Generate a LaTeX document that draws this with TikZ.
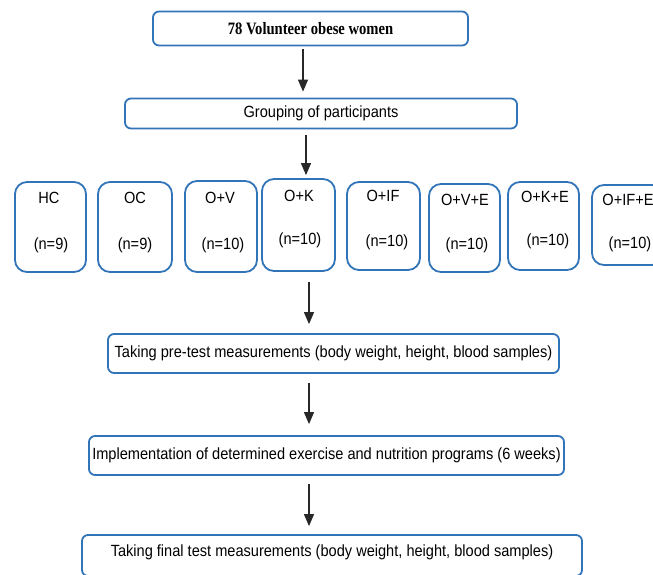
\documentclass[tikz,border=0pt]{standalone}
\usepackage{fontspec}
\setmainfont{Liberation Sans}[FakeStretch=0.9]
\newfontfamily\serifbold{Liberation Serif}[FakeStretch=0.84]
\usetikzlibrary{arrows.meta}
\definecolor{boxblue}{RGB}{50,116,184}
\definecolor{arrgray}{RGB}{40,40,40}
\tikzset{
  widebox/.style={draw=boxblue, line width=1.8pt, rounded corners=6pt, inner sep=0pt, font=\fontsize{16.2}{18}\selectfont},
  grpbox/.style={draw=boxblue, line width=1.8pt, rounded corners=12pt, inner sep=0pt},
  grptxt/.style={anchor=base, inner sep=0pt, font=\fontsize{16.2}{18}\selectfont},
  arr/.style={draw=arrgray, line width=1.2pt, -{Triangle[width=10pt,length=12pt]}},
}
\begin{document}
\begin{tikzpicture}[x=1pt,y=-1pt]
\useasboundingbox (0,0) rectangle (653,574);
\clip (0,0) rectangle (653,574);
% top boxes
\node[widebox, minimum width=315pt, minimum height=34pt, font=\serifbold\bfseries\fontsize{17.4}{19}\selectfont] (top) at (310.5,28.5) {78 Volunteer obese women};
\node[widebox, minimum width=392pt, minimum height=30pt] (grp) at (321,113.5) {Grouping of participants};
% group boxes
\node[grpbox, minimum width=71pt, minimum height=90pt] (hc) at (50.5,227) {};
\node[grpbox, minimum width=74pt, minimum height=90pt] (oc) at (135,227) {};
\node[grpbox, minimum width=72pt, minimum height=91pt] (ov) at (221,226.5) {};
\node[grpbox, minimum width=73pt, minimum height=92pt] (ok) at (298.5,225) {};
\node[grpbox, minimum width=73pt, minimum height=88pt] (oif) at (383.5,226) {};
\node[grpbox, minimum width=71pt, minimum height=88pt] (ove) at (464.5,228) {};
\node[grpbox, minimum width=71pt, minimum height=88pt] (oke) at (543.5,226) {};
\node[grpbox, minimum width=72pt, minimum height=80pt] (oife) at (628,225) {};
% group texts
\node[grptxt] (hcl) at (49,203) {HC};
\node[grptxt] (hcn) at (51,249) {(n=9)};
\node[grptxt] (ocl) at (135,203) {OC};
\node[grptxt] (ocn) at (135,249) {(n=9)};
\node[grptxt] (ovl) at (220,203) {O+V};
\node[grptxt] (ovn) at (223,249) {(n=10)};
\node[grptxt] (okl) at (299,201) {O+K};
\node[grptxt] (okn) at (300,244) {(n=10)};
\node[grptxt] (oifl) at (383,201) {O+IF};
\node[grptxt] (oifn) at (387,246) {(n=10)};
\node[grptxt] (ovel) at (465,205) {O+V+E};
\node[grptxt] (oven) at (467,249) {(n=10)};
\node[grptxt] (okel) at (545,202) {O+K+E};
\node[grptxt] (oken) at (548,245) {(n=10)};
\node[grptxt] (oifel) at (628,205) {O+IF+E};
\node[grptxt] (oifen) at (630,248) {(n=10)};
% lower boxes
\node[widebox, minimum width=451pt, minimum height=39pt] (pre) at (333.5,353.5) {Taking pre-test measurements (body weight, height, blood samples)};
\node[widebox, minimum width=475pt, minimum height=39pt] (impl) at (326.5,455.5) {Implementation of determined exercise and nutrition programs (6 weeks)};
\node[widebox, minimum width=500pt, minimum height=41pt, text depth=9pt] (fin) at (332,555.5) {Taking final test measurements (body weight, height, blood samples)};
% arrows
\draw[arr, shorten <=3pt, shorten >=6pt] (303,0 |- top.south) -- (303,0 |- grp.north);
\draw[arr, shorten <=6pt, shorten >=3pt] (306,0 |- grp.south) -- (306,0 |- ok.north);
\draw[arr, shorten <=10pt, shorten >=9pt] (309,0 |- ok.south) -- (309,0 |- pre.north);
\draw[arr, shorten <=9pt, shorten >=11pt] (309,0 |- pre.south) -- (309,0 |- impl.north);
\draw[arr, shorten <=8pt, shorten >=8pt] (309,0 |- impl.south) -- (309,0 |- fin.north);
\end{tikzpicture}
\end{document}
